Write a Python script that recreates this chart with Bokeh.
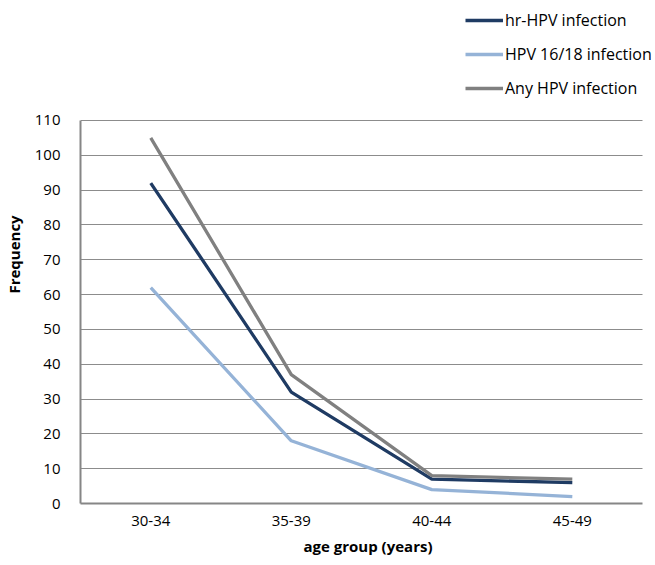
from bokeh.plotting import figure
from bokeh.models import Range1d, Legend, LegendItem, ColumnDataSource
from bokeh.embed import file_html
from bokeh.resources import INLINE

categories = ["30-34", "35-39", "40-44", "45-49"]
hr_hpv = [92, 32, 7, 6]
hpv_16_18 = [62, 18, 4, 2]
any_hpv = [105, 37, 8, 7]
y_ticks = list(range(0, 111, 10))

FONT = "Open Sans"
xpos = list(range(len(categories)))

# frame extends above the 110 line and right of the last category to leave room for the legend
p = figure(width=655, height=565, x_range=Range1d(-0.5, 3.592),
           y_range=Range1d(0, 143), output_backend="svg", toolbar_location=None,
           min_border_left=77, min_border_right=0, min_border_top=5, min_border_bottom=62)
p.outline_line_color = None
p.background_fill_color = "white"
p.border_fill_color = "white"

src = ColumnDataSource(dict(x=xpos, hr=hr_hpv, h16=hpv_16_18, anyh=any_hpv))
r1 = p.line("x", "hr", source=src, line_color="#1F3B63", line_width=3.3)
r2 = p.line("x", "h16", source=src, line_color="#95B3D7", line_width=3.3)
r3 = p.line("x", "anyh", source=src, line_color="#808080", line_width=3.3)

p.yaxis.ticker = y_ticks
p.yaxis.bounds = (0, 110)
p.xaxis.ticker = xpos
p.xaxis.major_label_overrides = {i: c for i, c in zip(xpos, categories)}
p.xaxis.bounds = (-0.5, 3.5)
p.ygrid.grid_line_color = "#8C8C8C"
p.ygrid.grid_line_width = 1
if "cross_bounds" in p.ygrid[0].properties():
    p.ygrid.cross_bounds = (-0.5, 3.5)
p.xgrid.grid_line_color = None

for ax in (p.xaxis[0], p.yaxis[0]):
    ax.axis_line_color = "#868686"
    ax.axis_line_width = 2
    ax.major_tick_line_color = None
    ax.minor_tick_line_color = None
    ax.major_tick_out = 0
    ax.major_tick_in = 0
    ax.major_label_text_font = FONT
    ax.major_label_text_font_size = "15px"
    ax.major_label_text_color = "#000000"
    ax.axis_label_text_font = FONT
    ax.axis_label_text_font_size = "15px"
    ax.axis_label_text_font_style = "bold"
    ax.axis_label_text_color = "#000000"

p.xaxis.axis_label = "age group (years)"
p.yaxis.axis_label = "Frequency"
p.xaxis.major_label_standoff = 12
p.xaxis.axis_label_standoff = 7
p.yaxis.major_label_standoff = 20
p.yaxis.axis_label_standoff = 8

legend = Legend(items=[
    LegendItem(label="hr-HPV infection", renderers=[r1]),
    LegendItem(label="HPV 16/18 infection", renderers=[r2]),
    LegendItem(label="Any HPV infection", renderers=[r3]),
], location=(385, 404))
legend.border_line_color = None
legend.background_fill_alpha = 0
legend.label_text_font = FONT
legend.label_text_font_size = "16px"
legend.label_text_color = "#000000"
legend.glyph_width = 38
legend.glyph_height = 20
legend.label_height = 20
legend.spacing = 12
legend.label_standoff = 2
legend.padding = 0
legend.margin = 0
p.add_layout(legend, "center")

open("out.html", "w").write(file_html(p, INLINE))
